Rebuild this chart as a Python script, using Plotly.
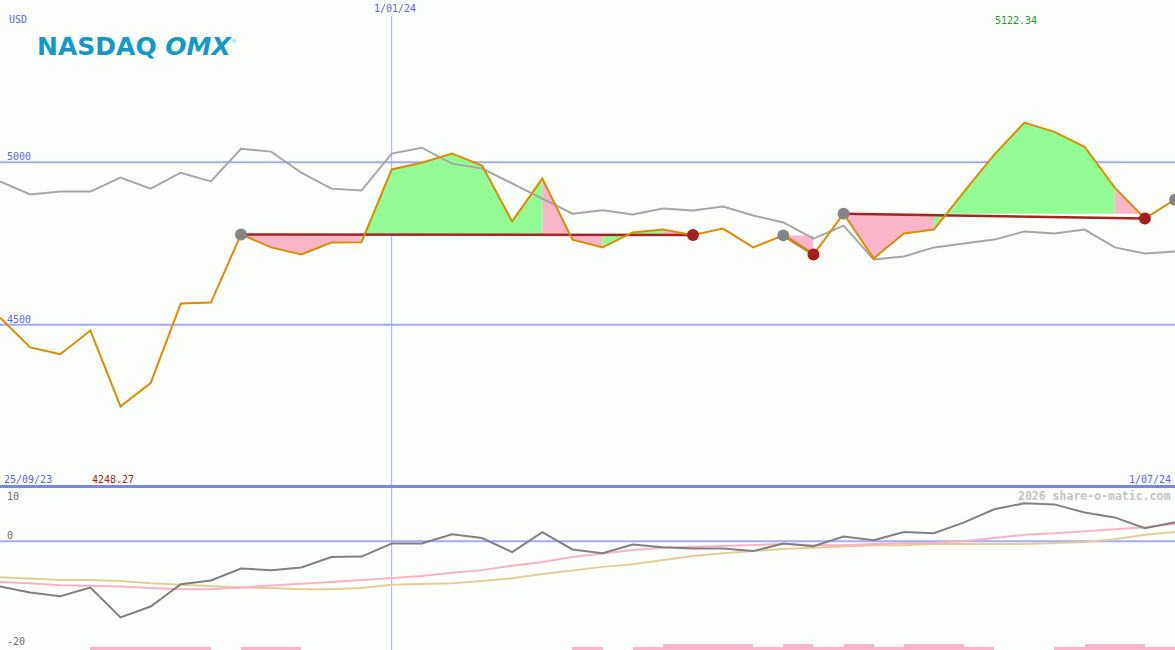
import plotly.graph_objects as go
import pandas as pd

# ---------------- data ----------------
weeks = pd.date_range("2023-10-02", periods=40, freq="7D")
date_labels = ["25/09/23", "1/01/24", "1/07/24"]
year_mark = "2024-01-01"

close = [4522, 4430, 4409, 4482, 4248.27, 4320, 4565, 4568, 4778, 4738,
         4716, 4753, 4754, 4978, 4999, 5027, 4990, 4818, 4950, 4762,
         4738, 4784, 4793, 4776, 4796, 4738, 4775, 4716, 4842, 4704,
         4781, 4793, 4910, 5024, 5122.34, 5094, 5048, 4922, 4827, 4885]

compare = [4941, 4901, 4910, 4910, 4953, 4919, 4968, 4941, 5042, 5033,
           4968, 4919, 4913, 5027, 5045, 4996, 4981, 4935, 4888, 4842,
           4852, 4839, 4858, 4852, 4864, 4836, 4815, 4765, 4805, 4701,
           4710, 4738, 4750, 4762, 4787, 4781, 4793, 4738, 4719, 4725]

osc = [-8.3, -9.4, -10.1, -8.5, -14.0, -12.0, -7.9, -7.2, -5.0, -5.3,
       -4.8, -2.9, -2.8, -0.4, -0.4, 1.3, 0.6, -2.0, 1.7, -1.5,
       -2.2, -0.6, -1.1, -1.3, -1.3, -1.8, -0.4, -0.9, 0.9, 0.2,
       1.7, 1.5, 3.5, 5.9, 7.0, 6.8, 5.3, 4.4, 2.4, 3.5]

osc_fast = [-7.5, -7.7, -8.1, -8.2, -8.3, -8.6, -8.8, -8.8, -8.5, -8.2,
            -7.9, -7.5, -7.1, -6.8, -6.4, -5.8, -5.3, -4.5, -3.8, -2.9,
            -2.2, -1.6, -1.2, -1.05, -0.9, -0.7, -0.5, -0.7, -0.7, -0.5,
            -0.3, -0.3, 0.05, 0.6, 1.2, 1.5, 1.9, 2.3, 2.6, 3.2]

osc_slow = [-6.6, -6.8, -7.1, -7.1, -7.3, -7.7, -8.0, -8.2, -8.5, -8.6,
            -8.8, -8.8, -8.6, -8.0, -7.9, -7.7, -7.3, -6.8, -6.0, -5.3,
            -4.7, -4.2, -3.5, -2.7, -2.2, -1.8, -1.4, -1.2, -0.9, -0.7,
            -0.7, -0.5, -0.5, -0.5, -0.5, -0.3, -0.1, 0.4, 1.2, 1.7]

# weekly strip at the bottom of the lower panel (one per interval)
strip = [0, 0, 0, 0.55, 0.55, 0.55, 0.55, 0, 0.55, 0.55,
         0, 0, 0, 0, 0, 0, 0, 0, 0, 0.55,
         0, 0.55, 1.1, 1.1, 1.1, 0.55, 1.1, 0.55, 1.1, 0.55,
         1.1, 1.1, 0.55, 0, 0, 0.55, 1.1, 1.1, 0.55]

support_start = [8, 26, 28, 39]
support_end = [23, 27, 38, None]
green_segments = [12, 13, 14, 15, 16, 17, 20, 21, 31, 32, 33, 34, 35, 36]

price_ticks = [5000, 4500]
osc_ticks = [10, 0, -20]

# ---------------- styles ----------------
BG = "#fcfefc"
BLUE_TXT = "#5a64f0"
GRID = "#a3abf2"
ORANGE = "#d98e04"
GRAYL = "#a6a6a6"
RED = "#a52525"
GREEN_F = "#94fa94"
PINK_F = "#fab6c8"
MONO = "DejaVu Sans Mono"
W, H = 1175, 650


def py(px):
    return 1 - px / H


fig = go.Figure()

# fills between price and support level
fx = {"g": [], "p": []}
fy = {"g": [], "p": []}
for s, e in zip(support_start, support_end):
    if e is None:
        continue
    level = close[s]
    for k in range(s, e):
        key = "g" if k in green_segments else "p"
        fx[key] += [weeks[k], weeks[k], weeks[k + 1], weeks[k + 1], None]
        fy[key] += [level, close[k], close[k + 1], level, None]
for key, col in (("p", PINK_F), ("g", GREEN_F)):
    fig.add_trace(go.Scatter(x=fx[key], y=fy[key], fill="toself", fillcolor=col,
                             mode="none", hoverinfo="skip", showlegend=False,
                             yaxis="y"))

# comparison line
fig.add_trace(go.Scatter(x=weeks, y=compare, mode="lines",
                         line=dict(color=GRAYL, width=2), showlegend=False, yaxis="y"))

# support lines
rx, ry = [], []
for s, e in zip(support_start, support_end):
    if e is None:
        continue
    rx += [weeks[s], weeks[e], None]
    ry += [close[s], close[e], None]
fig.add_trace(go.Scatter(x=rx, y=ry, mode="lines", line=dict(color=RED, width=2.5),
                         showlegend=False, yaxis="y"))

# price line
fig.add_trace(go.Scatter(x=weeks, y=close, mode="lines",
                         line=dict(color=ORANGE, width=2), showlegend=False, yaxis="y"))

# markers
fig.add_trace(go.Scatter(x=[weeks[i] for i in support_start],
                         y=[close[i] for i in support_start], mode="markers",
                         marker=dict(color="#858585", size=12), showlegend=False,
                         cliponaxis=False, yaxis="y"))
ends = [e for e in support_end if e is not None]
fig.add_trace(go.Scatter(x=[weeks[i] for i in ends], y=[close[i] for i in ends],
                         mode="markers", marker=dict(color="#a61f1f", size=12),
                         showlegend=False, yaxis="y"))

# lower panel
mid = [weeks[i] + pd.Timedelta(days=3.5) for i in range(len(strip))]
fig.add_trace(go.Bar(x=mid, y=strip, base=-20, width=7 * 86400000,
                     marker=dict(color="#f9b3cb", line=dict(width=0)),
                     showlegend=False, yaxis="y2"))
fig.add_trace(go.Scatter(x=weeks, y=osc_slow, mode="lines",
                         line=dict(color="#e2cd9a", width=2), showlegend=False, yaxis="y2"))
fig.add_trace(go.Scatter(x=weeks, y=osc_fast, mode="lines",
                         line=dict(color="#f8b2c6", width=2), showlegend=False, yaxis="y2"))
fig.add_trace(go.Scatter(x=weeks, y=osc, mode="lines",
                         line=dict(color="#808080", width=2), showlegend=False, yaxis="y2"))

shapes = []
for t in price_ticks:
    shapes.append(dict(type="line", xref="paper", x0=0, x1=1, yref="y", y0=t, y1=t,
                       line=dict(color=GRID, width=2), layer="below"))
shapes.append(dict(type="line", xref="paper", x0=0, x1=1, yref="y2", y0=0, y1=0,
                   line=dict(color=GRID, width=2), layer="below"))
shapes.append(dict(type="line", xref="x", x0=year_mark, x1=year_mark, yref="paper",
                   y0=0, y1=py(16), line=dict(color=GRID, width=1), layer="below"))
shapes.append(dict(type="line", xref="paper", x0=0, x1=1, yref="paper",
                   y0=py(486.5), y1=py(486.5), line=dict(color="#7a86ea", width=3)))

ann = []


def txt(x, y, s, color, xanchor="left", size=10, family=MONO, xref="paper"):
    ann.append(dict(x=x, y=py(y), xref=xref, yref="paper", text=s, showarrow=False,
                    xanchor=xanchor, yanchor="middle",
                    font=dict(family=family, size=size, color=color)))


txt(7 / W, 19, "USD", BLUE_TXT)
for t, ypx in zip(price_ticks, [156, 319]):
    txt(5 / W, ypx, str(t), BLUE_TXT)
txt(395 / W, 9, date_labels[1], BLUE_TXT, "center")
txt(2 / W, 479, date_labels[0], BLUE_TXT)
txt(1173 / W, 479, date_labels[2], BLUE_TXT, "right")
for t, ypx in zip(osc_ticks, [496, 535, 641]):
    txt(5 / W, ypx, str(t), "#6a6a6a")
txt(1172 / W, 496, "<b>2026 share-o-matic.com</b>", "#c4c4c4", "right", size=11.5)

imax = close.index(max(close))
imin = close.index(min(close))
ann.append(dict(x=weeks[imax], y=py(21), xref="x", yref="paper", text=f"{max(close):.2f}",
                showarrow=False, xanchor="center", yanchor="middle", xshift=-8,
                font=dict(family=MONO, size=10, color="#229a22")))
ann.append(dict(x=weeks[imin], y=py(479), xref="x", yref="paper", text=f"{min(close):.2f}",
                showarrow=False, xanchor="center", yanchor="middle", xshift=-8,
                font=dict(family=MONO, size=10, color="#a82020")))

# logo
ann.append(dict(x=35 / W, y=py(46), xref="paper", yref="paper",
                text="<b>NASDAQ <i>OMX</i></b>",
                showarrow=False, xanchor="left", yanchor="middle",
                font=dict(family="DejaVu Sans", size=25, color="#1598c2")))
ann.append(dict(x=229 / W, y=py(41), xref="paper", yref="paper", text="®",
                showarrow=False, xanchor="left", yanchor="middle",
                font=dict(family="DejaVu Sans", size=6, color="#8fc8dc")))

fig.update_layout(
    width=W, height=H, margin=dict(l=0, r=0, t=0, b=0, pad=0),
    paper_bgcolor=BG, plot_bgcolor=BG, showlegend=False, bargap=0,
    xaxis=dict(range=[weeks[0], weeks[-1]], visible=False, showgrid=False, zeroline=False),
    yaxis=dict(domain=[py(487), 1], range=[4000, 5500], visible=False, showgrid=False),
    yaxis2=dict(domain=[0, py(487)], range=[-20, 10], visible=False, showgrid=False),
    shapes=shapes, annotations=ann,
)

fig.write_html("out.html", config={"displayModeBar": False},
               post_script="document.body.style.margin='0';"
                           "document.body.style.overflow='hidden';")
